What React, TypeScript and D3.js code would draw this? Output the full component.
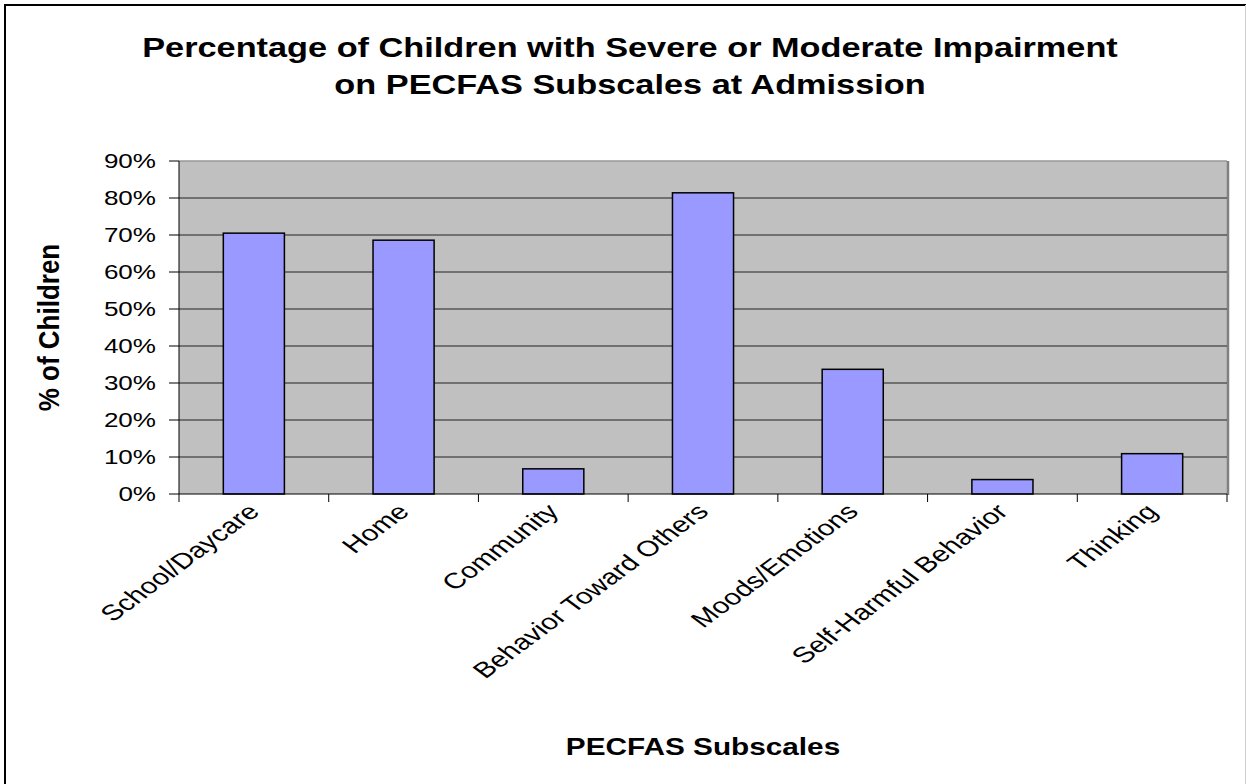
import React from "react";
import * as d3 from "d3";

// Subscale categories and share of children rated severe/moderate at admission
const categories = [
  "School/Daycare",
  "Home",
  "Community",
  "Behavior Toward Others",
  "Moods/Emotions",
  "Self-Harmful Behavior",
  "Thinking",
];
const percentages = [70.5, 68.6, 6.8, 81.4, 33.7, 3.9, 10.9];
const yTicks = [0, 10, 20, 30, 40, 50, 60, 70, 80, 90];

const titleLines = [
  "Percentage of Children with Severe or Moderate Impairment",
  "on PECFAS Subscales at Admission",
];

const W = 1246;
const H = 784;
const FONT = "'Liberation Sans', Arial, Helvetica, sans-serif";
// text is drawn a little wide, as in the original chart export
const SX = 1.27;
const LABEL_SX = 1.35;

export default function App() {
  const left = 179;
  const right = 1227;
  const top = 161;
  const bottom = 494;

  const x = d3
    .scaleBand<string>()
    .domain(categories)
    .range([left, right])
    .paddingInner(0.592)
    .paddingOuter(0.296);
  const y = d3.scaleLinear().domain([0, 90]).range([bottom, top]);
  const step = x.step();
  const boundaries = d3.range(categories.length + 1).map((i) => left + i * step);

  return (
    <svg
      width={W}
      height={H}
      style={{ position: "absolute", left: 0, top: 0, background: "#fff" }}
      fontFamily={FONT}
    >
      {/* chart frame */}
      <rect x={5} y={5} width={1260} height={800} fill="#fff" stroke="#000" strokeWidth={2} />
      <line x1={1245.5} y1={5} x2={1245.5} y2={H} stroke="#d0d0d0" strokeWidth={1} />

      {/* title */}
      {titleLines.map((t, i) => (
        <text
          key={t}
          transform={`translate(630,${57 + i * 37}) scale(1.225,1)`}
          textAnchor="middle"
          fontSize={28}
          fontWeight="bold"
          fill="#000"
        >
          {t}
        </text>
      ))}

      {/* plot area */}
      <rect x={left} y={top} width={right - left} height={bottom - top} fill="#c0c0c0" />
      <line x1={left} y1={top} x2={right} y2={top} stroke="#999" strokeWidth={1.5} />
      <line x1={right + 1} y1={top} x2={right + 1} y2={bottom + 1} stroke="#808080" strokeWidth={2.5} />

      {/* gridlines */}
      {yTicks
        .filter((t) => t > 0 && t < 90)
        .map((t) => (
          <line key={t} x1={left} x2={right} y1={y(t)} y2={y(t)} stroke="#222" strokeWidth={1} />
        ))}

      {/* bars */}
      {categories.map((c, i) => (
        <rect
          key={c}
          x={x(c)}
          y={y(percentages[i])}
          width={x.bandwidth()}
          height={bottom - y(percentages[i])}
          fill="#9999ff"
          stroke="#000"
          strokeWidth={1.5}
        />
      ))}

      {/* y axis */}
      <line x1={left} y1={top} x2={left} y2={bottom} stroke="#000" strokeWidth={1} />
      {yTicks.map((t) => (
        <g key={t}>
          <line x1={left - 10} x2={left} y1={y(t)} y2={y(t)} stroke="#000" strokeWidth={1} />
          <text
            transform={`translate(156,${y(t)}) scale(${SX},1)`}
            dy="0.36em"
            textAnchor="end"
            fontSize={20.5}
            fill="#000"
          >
            {`${t}%`}
          </text>
        </g>
      ))}

      {/* x axis */}
      <line x1={left} y1={bottom} x2={right} y2={bottom} stroke="#000" strokeWidth={1} />
      {boundaries.map((b, i) => (
        <line key={i} x1={b} x2={b} y1={bottom} y2={bottom + 8} stroke="#000" strokeWidth={1} />
      ))}
      {categories.map((c) => {
        const cx = (x(c) as number) + x.bandwidth() / 2;
        return (
          <text
            key={c}
            transform={`translate(${cx + 7},${bottom + 19}) scale(${LABEL_SX},1) rotate(-45)`}
            textAnchor="end"
            fontSize={22}
            fill="#000"
          >
            {c}
          </text>
        );
      })}

      {/* axis titles */}
      <text
        transform={`translate(59,${(top + bottom) / 2}) scale(1.15,1) rotate(-90)`}
        textAnchor="middle"
        fontSize={26}
        fontWeight="bold"
        fill="#000"
      >
        % of Children
      </text>
      <text
        transform={`translate(${(left + right) / 2},755) scale(1.24,1)`}
        textAnchor="middle"
        fontSize={24}
        fontWeight="bold"
        fill="#000"
      >
        PECFAS Subscales
      </text>
    </svg>
  );
}
